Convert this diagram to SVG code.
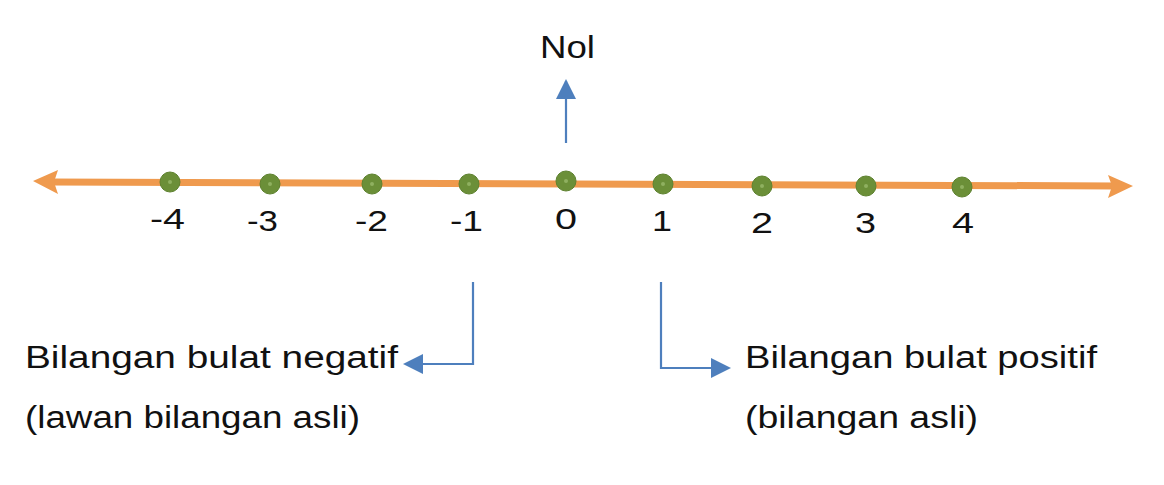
<svg xmlns="http://www.w3.org/2000/svg" width="1164" height="485" viewBox="0 0 1164 485">
<defs>
<style>
.t{font-family:"Liberation Sans",Arial,sans-serif;fill:#111;}
.num{font-size:30px;}
.lbl{font-size:31px;}
.axis{stroke:#ef9a4e;stroke-width:7;fill:none;}
.conn{stroke:#4e7fbd;stroke-width:2.2;fill:none;}
.dot{fill:#6b8f38;stroke:#5e8230;stroke-width:1;}
.dotc{fill:#8fb060;}
</style>
<marker id="bh2" viewBox="0 0 10 10" refX="9" refY="5" markerWidth="22" markerHeight="20" markerUnits="userSpaceOnUse" orient="auto">
<path d="M0,0 L10,5 L0,10 z" fill="#4e7fbd"/>
</marker>
</defs>
<g id="axis">
<line class="axis" x1="50" y1="182" x2="1116" y2="186"/>
<path d="M33,181 L58,170 L54,182 L58,194 z" fill="#ef9a4e"/>
<path d="M1133,186 L1108,175 L1112,186 L1108,198 z" fill="#ef9a4e"/>
</g>
<g id="connectors">
<line class="conn" x1="566" y1="143" x2="566" y2="81" marker-end="url(#bh2)"/>
<polyline class="conn" points="473,282 473,364 405,364" marker-end="url(#bh2)"/>
<polyline class="conn" points="661,282 661,368 729,368" marker-end="url(#bh2)"/>
</g>
<g id="p-4"><circle class="dot" cx="170" cy="182" r="10"/><circle class="dotc" cx="170" cy="182" r="2"/><text class="t num" x="150" y="229" textLength="35" lengthAdjust="spacingAndGlyphs">-4</text></g>
<g id="p-3"><circle class="dot" cx="270" cy="184" r="10"/><circle class="dotc" cx="270" cy="184" r="2"/><text class="t num" x="247" y="231" textLength="31" lengthAdjust="spacingAndGlyphs">-3</text></g>
<g id="p-2"><circle class="dot" cx="372" cy="184" r="10"/><circle class="dotc" cx="372" cy="184" r="2"/><text class="t num" x="355" y="231" textLength="33" lengthAdjust="spacingAndGlyphs">-2</text></g>
<g id="p-1"><circle class="dot" cx="469" cy="184" r="10"/><circle class="dotc" cx="469" cy="184" r="2"/><text class="t num" x="450" y="231" textLength="33" lengthAdjust="spacingAndGlyphs">-1</text></g>
<g id="p0"><circle class="dot" cx="566" cy="181" r="10"/><circle class="dotc" cx="566" cy="181" r="2"/><text class="t num" x="555" y="229" textLength="22" lengthAdjust="spacingAndGlyphs">0</text></g>
<g id="p1"><circle class="dot" cx="663" cy="184" r="10"/><circle class="dotc" cx="663" cy="184" r="2"/><text class="t num" x="652" y="231" textLength="20" lengthAdjust="spacingAndGlyphs">1</text></g>
<g id="p2"><circle class="dot" cx="762" cy="186" r="10"/><circle class="dotc" cx="762" cy="186" r="2"/><text class="t num" x="751" y="233" textLength="22" lengthAdjust="spacingAndGlyphs">2</text></g>
<g id="p3"><circle class="dot" cx="866" cy="186" r="10"/><circle class="dotc" cx="866" cy="186" r="2"/><text class="t num" x="855" y="233" textLength="21" lengthAdjust="spacingAndGlyphs">3</text></g>
<g id="p4"><circle class="dot" cx="962" cy="187" r="10"/><circle class="dotc" cx="962" cy="187" r="2"/><text class="t num" x="952" y="233" textLength="22" lengthAdjust="spacingAndGlyphs">4</text></g>
<g id="nol"><text class="t" x="540" y="58" style="font-size:31px" textLength="55" lengthAdjust="spacingAndGlyphs">Nol</text></g>
<g id="neg"><text class="t lbl" x="25" y="368" textLength="373" lengthAdjust="spacingAndGlyphs">Bilangan bulat negatif</text><text class="t lbl" x="25" y="428" textLength="335" lengthAdjust="spacingAndGlyphs">(lawan bilangan asli)</text></g>
<g id="pos"><text class="t lbl" x="745" y="368" textLength="352" lengthAdjust="spacingAndGlyphs">Bilangan bulat positif</text><text class="t lbl" x="745" y="428" textLength="233" lengthAdjust="spacingAndGlyphs">(bilangan asli)</text></g>
</svg>
